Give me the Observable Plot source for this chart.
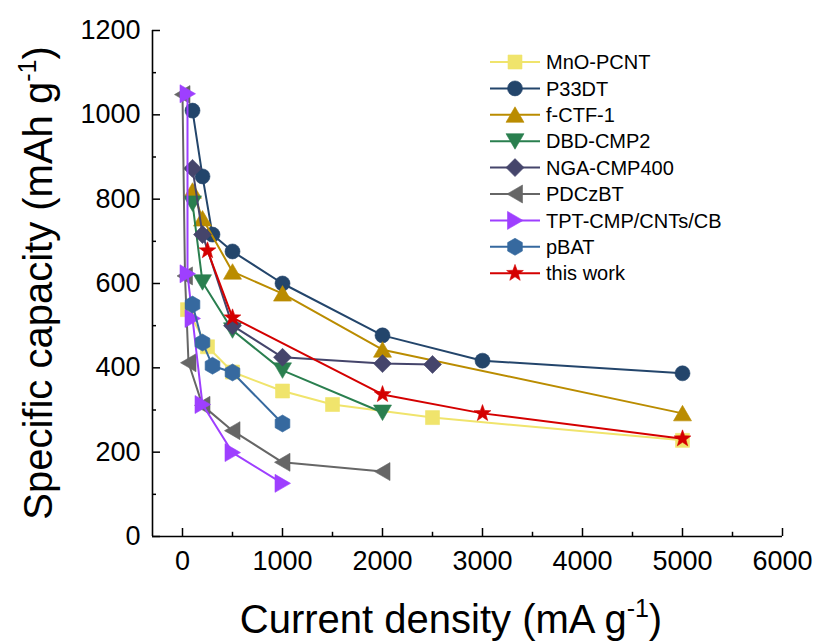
<!DOCTYPE html>
<html><head><meta charset="utf-8">
<script src="https://cdn.jsdelivr.net/npm/d3@7"></script>
<script src="https://cdn.jsdelivr.net/npm/@observablehq/plot@0.6"></script>
<style>body{margin:0;background:#fff;} svg{font-family:"Liberation Sans",Arial,sans-serif;}</style>
</head><body><div id="chart"></div>
<script>
// ---- data ----
const seriesNames = ["MnO-PCNT","P33DT","f-CTF-1","DBD-CMP2","NGA-CMP400","PDCzBT","TPT-CMP/CNTs/CB","pBAT","this work"];
const mnoPcntX = [50, 250, 500, 1000, 1500, 2500, 5000];
const mnoPcntY = [538, 450, 390, 345, 313, 282, 228];
const p33dtX = [100, 200, 300, 500, 1000, 2000, 3000, 5000];
const p33dtY = [1010, 854, 716, 676, 600, 477, 417, 387];
const fCtfX = [100, 200, 500, 1000, 2000, 5000];
const fCtfY = [820, 754, 628, 576, 443, 292];
const dbdX = [100, 200, 500, 1000, 2000];
const dbdY = [790, 603, 489, 394, 294];
const ngaX = [100, 200, 500, 1000, 2000, 2500];
const ngaY = [873, 716, 500, 425, 410, 408];
const pdczbtX = [0, 25, 60, 200, 500, 1000, 2000];
const pdczbtY = [1048, 618, 412, 311, 251, 176, 154];
const tptX = [50, 50, 100, 200, 500, 1000];
const tptY = [1050, 623, 517, 313, 199, 126];
const pbatX = [100, 200, 300, 500, 1000];
const pbatY = [550, 460, 405, 389, 268];
const thisWorkX = [250, 500, 2000, 3000, 5000];
const thisWorkY = [678, 519, 337, 292, 232];
const xTicks = [0, 1000, 2000, 3000, 4000, 5000, 6000];
const xMinorTicks = [500, 1500, 2500, 3500, 4500, 5500];
const yTicks = [0, 200, 400, 600, 800, 1000, 1200];
const yMinorTicks = [100, 300, 500, 700, 900, 1100];

// ---- styles ----
const colors = ["#F0E46C","#23456B","#BA8C00","#2A7F4F","#45456B","#666666","#9E3FFF","#36699F","#D40000"];
function poly(pts){return {draw(c){c.moveTo(pts[0][0],pts[0][1]);for(let i=1;i<pts.length;i++)c.lineTo(pts[i][0],pts[i][1]);c.closePath();}};}
const symSquare = poly([[-7,-7],[7,-7],[7,7],[-7,7]]);
const symCircle = {draw(c){c.moveTo(7.5,0);c.arc(0,0,7.5,0,2*Math.PI);c.closePath();}};
const symTriUp = poly([[0,-8],[9,7.5],[-9,7.5]]);
const symTriDown = poly([[0,8],[9,-7.5],[-9,-7.5]]);
const symTriLeft = poly([[-8,0],[7.5,-9],[7.5,9]]);
const symTriRight = poly([[8,0],[-7.5,-9],[-7.5,9]]);
const symDiamond = poly([[0,-9],[9,0],[0,9],[-9,0]]);
const symHex = poly(d3.range(6).map(k=>{const a=(-90+60*k)*Math.PI/180;return [8.5*Math.cos(a),8.5*Math.sin(a)];}));
const symStar = poly(d3.range(10).map(k=>{const a=(-90+36*k)*Math.PI/180;const r=k%2?3.6:8.8;return [r*Math.cos(a),r*Math.sin(a)];}));
const symbols = [symSquare,symCircle,symTriUp,symTriDown,symDiamond,symTriLeft,symTriRight,symHex,symStar];

const seriesX = [mnoPcntX,p33dtX,fCtfX,dbdX,ngaX,pdczbtX,tptX,pbatX,thisWorkX];
const seriesY = [mnoPcntY,p33dtY,fCtfY,dbdY,ngaY,pdczbtY,tptY,pbatY,thisWorkY];

const seriesMarks = [];
seriesNames.forEach((name,s)=>{
  const data = seriesX[s].map((x,i)=>({x, y: seriesY[s][i], name}));
  seriesMarks.push(Plot.line(data,{x:"x",y:"y",stroke:colors[s],strokeWidth:2}));
  seriesMarks.push(Plot.dot(data,{x:"x",y:"y",symbol:symbols[s],fill:colors[s],stroke:colors[s],strokeWidth:0.6}));
});

const chart = Plot.plot({
  width: 819, height: 644,
  marginLeft: 152, marginRight: 37, marginTop: 30, marginBottom: 108,
  x: {domain: [-300, 6000]},
  y: {domain: [0, 1200]},
  style: {fontFamily: "'Liberation Sans', Arial, sans-serif", background: "#fff"},
  marks: [
    Plot.axisX(xTicks, {tickSize: 0, tickPadding: 14, fontSize: 27, tickFormat: d3.format("d"), label: null}),
    Plot.axisY(yTicks, {tickSize: 0, tickPadding: 12, fontSize: 27, tickFormat: d3.format("d"), label: null}),
    Plot.ruleX(xTicks, {y1: 0, y2: 19, stroke: "#000", strokeWidth: 1.5}),
    Plot.ruleX(xMinorTicks, {y1: 0, y2: 10, stroke: "#000", strokeWidth: 1.5}),
    Plot.ruleY(yTicks, {x1: -300, x2: -220, stroke: "#000", strokeWidth: 1.5}),
    Plot.ruleY(yMinorTicks, {x1: -300, x2: -260, stroke: "#000", strokeWidth: 1.5}),
    Plot.ruleY([0], {stroke: "#000", strokeWidth: 1.6}),
    Plot.ruleX([-300], {stroke: "#000", strokeWidth: 1.6}),
    ...seriesMarks
  ]
});
document.getElementById("chart").appendChild(chart);

// ---- axis titles and legend ----
const svg = d3.select(chart);
const yt = svg.append("text").attr("transform","translate(52,283) rotate(-90)")
  .attr("text-anchor","middle").attr("font-size",40).attr("fill","#000");
yt.append("tspan").text("Specific capacity (mAh g");
yt.append("tspan").attr("font-size",25).attr("dy",-16).text("-1");
yt.append("tspan").attr("dy",16).text(")");
const xt = svg.append("text").attr("transform","translate(451,633)")
  .attr("text-anchor","middle").attr("font-size",40).attr("fill","#000");
xt.append("tspan").text("Current density (mA g");
xt.append("tspan").attr("font-size",25).attr("dy",-16).text("-1");
xt.append("tspan").attr("dy",16).text(")");

const lg = svg.append("g").attr("text-anchor","start");
seriesNames.forEach((name,s)=>{
  const cy = 62 + s*26.4;
  const g = lg.append("g").attr("transform",`translate(0,${cy})`);
  g.append("line").attr("x1",490).attr("x2",540).attr("y1",0).attr("y2",0).attr("stroke",colors[s]).attr("stroke-width",2);
  const p = d3.path(); symbols[s].draw(p);
  g.append("path").attr("d",p.toString()).attr("transform","translate(515,0)").attr("fill",colors[s]).attr("stroke",colors[s]).attr("stroke-width",0.6);
  g.append("text").attr("x",546).attr("y",0).attr("dy","0.36em").attr("text-anchor","start").attr("font-size",20).attr("fill","#000").text(name);
});
</script></body></html>
